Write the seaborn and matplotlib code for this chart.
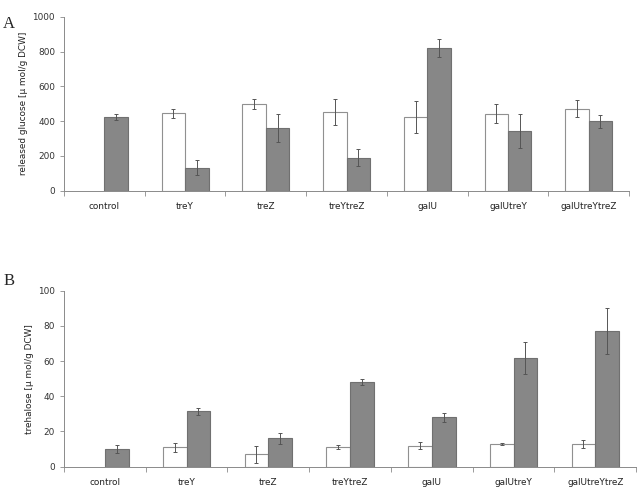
import numpy as np
import pandas as pd
import matplotlib
matplotlib.use('Agg')
import matplotlib.pyplot as plt
import seaborn as sns
from matplotlib.ticker import FixedLocator

strains = ['control', 'treY', 'treZ', 'treYtreZ', 'galU', 'galUtreY', 'galUtreYtreZ']

# panel A: released glucose
glc_white = [np.nan, 445, 497, 450, 423, 443, 471]
glc_white_err = [np.nan, 26, 29, 75, 93, 55, 50]
glc_gray = [422, 133, 360, 190, 818, 343, 398]
glc_gray_err = [17, 43, 82, 50, 52, 96, 36]

# panel B: trehalose
tre_white = [np.nan, 11.0, 7.0, 11.0, 12.0, 12.7, 12.9]
tre_white_err = [np.nan, 2.5, 4.7, 1.2, 2.0, 0.6, 2.4]
tre_gray = [10.0, 31.5, 16.1, 48.0, 28.0, 61.8, 77.1]
tre_gray_err = [2.3, 1.9, 3.2, 1.6, 2.4, 9.1, 13.3]

sns.set_style('white')
plt.rcParams['font.family'] = ['DejaVu Sans']

fig = plt.figure(figsize=(6.4, 4.87), dpi=100)
axA = fig.add_axes([0.1, 0.6084, 0.883, 0.3573])
axB = fig.add_axes([0.1, 0.0417, 0.894, 0.3614])

spine_col = '#8a8a8a'
bar_gray = '#878787'
w = 0.58
fs = 6.4


def draw(ax, white, werr, gray, gerr, ymax, ylabel):
    df = pd.DataFrame({
        'strain': strains * 2,
        'cond': ['w'] * len(strains) + ['g'] * len(strains),
        'val': list(white) + list(gray),
    })
    sns.barplot(data=df, x='strain', y='val', hue='cond', hue_order=['w', 'g'],
                palette={'w': 'white', 'g': bar_gray}, width=w, gap=0,
                errorbar=None, legend=False, ax=ax, saturation=1)
    for p in ax.patches:
        if p.get_facecolor()[0] > 0.9:
            p.set_edgecolor('#909090')
        else:
            p.set_edgecolor('#707070')
        p.set_linewidth(0.8)
    idx = np.arange(len(strains))
    ax.errorbar(idx - w / 4, white, yerr=werr, fmt='none', ecolor='#555555',
                elinewidth=0.7, capsize=1.5, capthick=0.7)
    ax.errorbar(idx + w / 4, gray, yerr=gerr, fmt='none', ecolor='#555555',
                elinewidth=0.7, capsize=1.5, capthick=0.7)

    ax.set_xlim(-0.5, len(strains) - 0.5)
    ax.set_ylim(0, ymax)
    ax.set_xlabel('')
    ax.set_ylabel(ylabel, fontsize=fs, color='#222222', labelpad=3)
    ax.xaxis.set_minor_locator(FixedLocator(np.arange(-0.5, len(strains) + 0.5, 1)))
    ax.tick_params(axis='x', which='major', length=0, labelsize=fs, colors='#222222', pad=8)
    ax.tick_params(axis='x', which='minor', length=3.5, width=0.6, color=spine_col,
                   direction='out', bottom=True)
    ax.tick_params(axis='y', length=3, width=0.6, color=spine_col, labelsize=fs,
                   labelcolor='#333333', left=True)
    sns.despine(ax=ax)
    for s in ['left', 'bottom']:
        ax.spines[s].set_color(spine_col)
        ax.spines[s].set_linewidth(0.7)


draw(axA, glc_white, glc_white_err, glc_gray, glc_gray_err, 1000,
     'released glucose [\u03bc mol/g DCW]')
axA.set_yticks(np.arange(0, 1001, 200))
draw(axB, tre_white, tre_white_err, tre_gray, tre_gray_err, 100,
     'trehalose [\u03bc mol/g DCW]')
axB.set_yticks(np.arange(0, 101, 20))

fig.text(0.005, 0.968, 'A', fontsize=12, family='Liberation Serif', va='top')
fig.text(0.005, 0.44, 'B', fontsize=12, family='Liberation Serif', va='top')

fig.savefig('out.png', dpi=100)
